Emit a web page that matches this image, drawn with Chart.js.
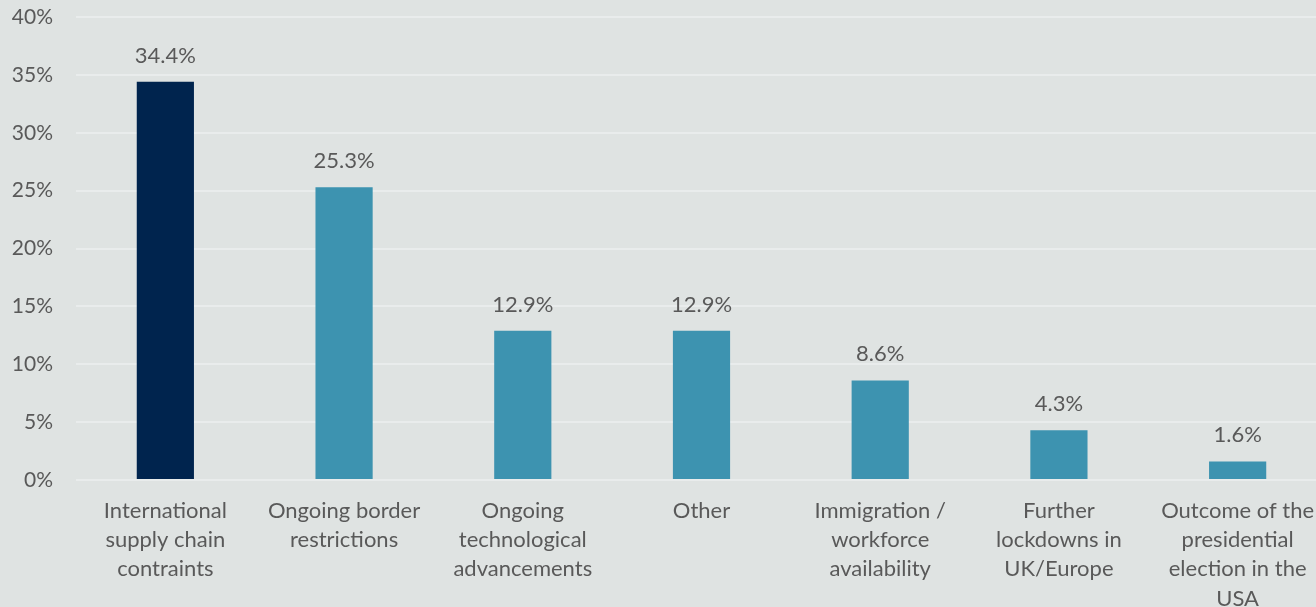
<!DOCTYPE html>
<html>
<head>
<meta charset="utf-8">
<script src="https://cdn.jsdelivr.net/npm/chart.js@4"></script>
<style>
  html, body { margin: 0; padding: 0; background: #dfe3e2; overflow: hidden; }
  #wrap { width: 1316px; height: 607px; position: relative; overflow: hidden; }
</style>
</head>
<body>
<div id="wrap"><canvas id="c" width="1327" height="607"></canvas></div>
<script>
const categories = [
  ["International", "supply chain", "contraints"],
  ["Ongoing border", "restrictions"],
  ["Ongoing", "technological", "advancements"],
  ["Other"],
  ["Immigration /", "workforce", "availability"],
  ["Further", "lockdowns in", "UK/Europe"],
  ["Outcome of the", "presidential", "election in the", "USA"]
];
const values = [34.4, 25.3, 12.9, 12.9, 8.6, 4.3, 1.6];
const barColors = ["#00244e", "#3d93b0", "#3d93b0", "#3d93b0", "#3d93b0", "#3d93b0", "#3d93b0"];
const yTicks = [0, 5, 10, 15, 20, 25, 30, 35, 40];

const textColor = "#595959";
const fontFamily = "Lato, 'Open Sans', sans-serif";

const valueLabels = {
  id: 'valueLabels',
  afterDatasetsDraw(chart) {
    const ctx = chart.ctx;
    const meta = chart.getDatasetMeta(0);
    ctx.save();
    ctx.font = "22px " + fontFamily;
    ctx.fillStyle = textColor;
    ctx.textAlign = "center";
    ctx.textBaseline = "alphabetic";
    meta.data.forEach((bar, i) => {
      ctx.fillText(values[i].toFixed(1) + "%", bar.x, bar.y - 19);
    });
    ctx.restore();
  }
};

new Chart(document.getElementById('c'), {
  type: 'bar',
  data: {
    labels: categories,
    datasets: [{
      data: values,
      backgroundColor: barColors,
      borderWidth: 0,
      barPercentage: 0.32,
      categoryPercentage: 1.0
    }]
  },
  options: {
    responsive: false,
    animation: false,
    maintainAspectRatio: false,
    layout: { padding: { top: 17, right: 0, bottom: 0, left: 0 } },
    plugins: { legend: { display: false }, tooltip: { enabled: false } },
    scales: {
      x: {
        grid: { display: false },
        border: { display: false },
        ticks: {
          color: textColor,
          font: { family: fontFamily, size: 22, lineHeight: 1.33 },
          maxRotation: 0, minRotation: 0, autoSkip: false, padding: 8
        },
        afterFit(scale) {
          scale.height = 127;
          scale.paddingLeft = 0; scale.paddingRight = 0;
        }
      },
      y: {
        min: 0, max: 40,
        afterBuildTicks(scale) { scale.ticks = yTicks.map(v => ({ value: v })); },
        grid: { color: "#e9ecec", lineWidth: 2, drawTicks: false },
        border: { display: false },
        ticks: {
          color: textColor,
          font: { family: fontFamily, size: 21 },
          padding: 23,
          callback: v => v + "%"
        },
        afterFit(scale) {
          scale.width = 76;
          scale.paddingTop = 0; scale.paddingBottom = 0;
        }
      }
    }
  },
  plugins: [valueLabels]
});
</script>
</body>
</html>
